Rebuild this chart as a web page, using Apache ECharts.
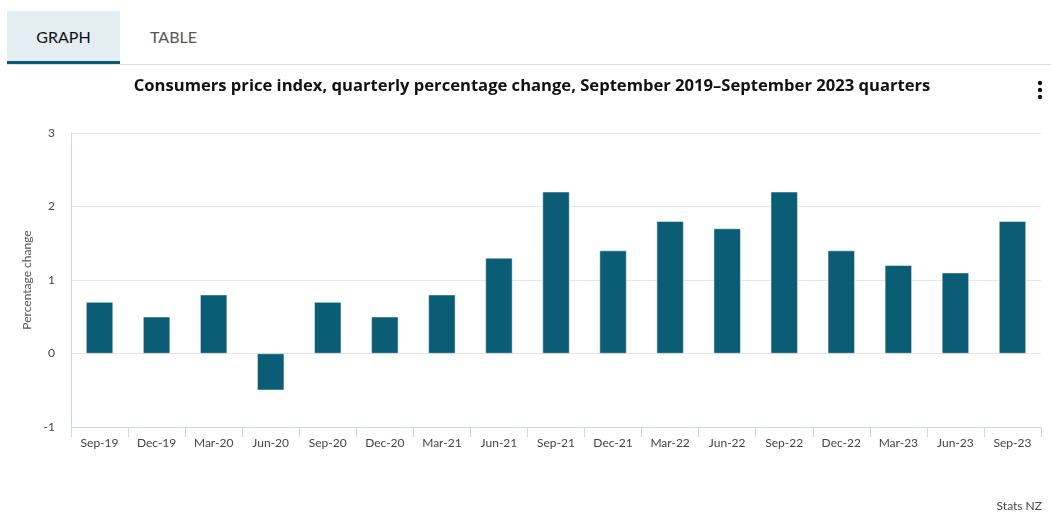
<!DOCTYPE html>
<html>
<head>
<meta charset="utf-8">
<script src="https://cdn.jsdelivr.net/npm/echarts@6/dist/echarts.min.js"></script>
<style>
html,body{margin:0;padding:0;background:#fff;font-family:Lato,"Open Sans",sans-serif;}
#tabs{position:absolute;left:7px;top:11px;width:1044px;height:53px;border-bottom:1px solid #dcdcdc;}
.tab{position:absolute;top:0;height:50px;line-height:52px;font-size:16px;text-align:center;}
#t1{left:0;width:113px;background:#e4edf1;color:#111;border-bottom:3px solid #0b5a72;}
#t2{left:113px;width:107px;color:#555;}
#chart{position:absolute;left:0;top:0;width:1051px;height:516px;}
</style>
</head>
<body>
<div id="tabs"><div class="tab" id="t1">GRAPH</div><div class="tab" id="t2">TABLE</div></div>
<div id="chart"></div>
<script>
const categories = ["Sep-19","Dec-19","Mar-20","Jun-20","Sep-20","Dec-20","Mar-21","Jun-21","Sep-21","Dec-21","Mar-22","Jun-22","Sep-22","Dec-22","Mar-23","Jun-23","Sep-23"];
const values = [0.7,0.5,0.8,-0.5,0.7,0.5,0.8,1.3,2.2,1.4,1.8,1.7,2.2,1.4,1.2,1.1,1.8];
const titleText = "Consumers price index, quarterly percentage change, September 2019\u2013September 2023 quarters";
const yAxisName = "Percentage change";
const creditText = "Stats NZ";

const chart = echarts.init(document.getElementById('chart'), null, {renderer:'canvas'});
chart.setOption({
  backgroundColor:'transparent',
  animation:false,
  textStyle:{fontFamily:'Lato, "Open Sans", sans-serif'},
  title:[{
    text:titleText, left:527, top:73, textAlign:'center',
    textStyle:{fontSize:16.6, fontWeight:'bold', color:'#111', fontFamily:'"Open Sans", sans-serif'}
  },{
    text:creditText, right:4, top:495,
    textStyle:{fontSize:12, fontWeight:'normal', color:'#444'}
  }],
  graphic:[
    {type:'circle', shape:{cx:1040, cy:83, r:2.2}, style:{fill:'#111'}},
    {type:'circle', shape:{cx:1040, cy:90, r:2.2}, style:{fill:'#111'}},
    {type:'circle', shape:{cx:1040, cy:97, r:2.2}, style:{fill:'#111'}}
  ],
  grid:{left:71, right:10, top:133, bottom:89, containLabel:false},
  xAxis:{
    type:'category', data:categories,
    axisLine:{onZero:false, lineStyle:{color:'#ccd6eb'}},
    axisTick:{show:true, length:10, lineStyle:{color:'#ccd6eb'}},
    axisLabel:{color:'#444', fontSize:12, margin:10}
  },
  yAxis:{
    type:'value', min:-1, max:3, interval:1,
    name:yAxisName, nameLocation:'middle', nameGap:34,
    nameTextStyle:{color:'#555', fontSize:12},
    axisLine:{show:true, lineStyle:{color:'#ccd6eb'}},
    axisTick:{show:false},
    axisLabel:{color:'#444', fontSize:12, margin:16},
    splitLine:{lineStyle:{color:'#e6e6e6'}}
  },
  series:[{
    type:'bar', data:values, barWidth:27,
    itemStyle:{color:'#0b5c75', borderColor:'#ffffff', borderWidth:0.5}
  }]
});
</script>
</body>
</html>
